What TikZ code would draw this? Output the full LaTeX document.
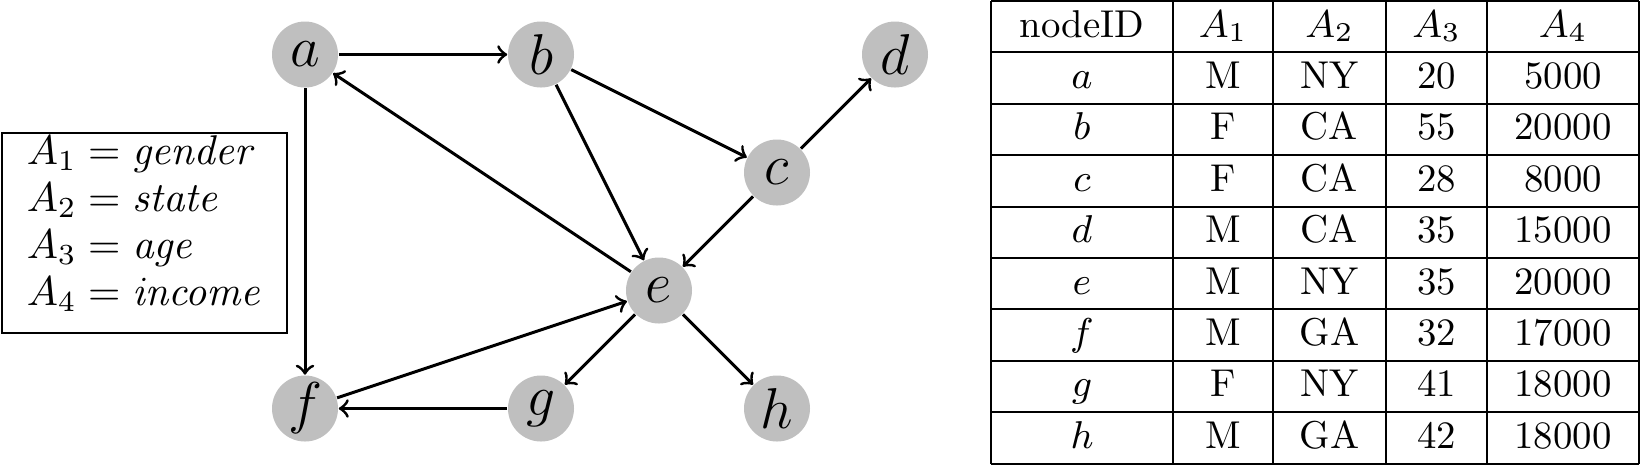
\RequirePackage{fix-cm}
\documentclass[tikz,border=0pt]{standalone}
\begin{document}
\begin{tikzpicture}[x=0.25pt,y=-0.25pt,
  vtx/.style={circle,fill=lightgray,minimum size=16.5pt,inner sep=0pt,font=\Large},
  edge/.style={->,line width=0.75pt},
  grid/.style={line width=0.5pt},
  cell/.style={anchor=base,inner sep=0pt,font=\fontsize{9.7}{11.6}\selectfont},
  legtxt/.style={anchor=base west,inner sep=0pt,font=\fontsize{10.4}{12.5}\selectfont}]
\useasboundingbox (0,0) rectangle (1641,465);
% graph nodes
\node[vtx] (a) at (305,54.5) {$a$};
\node[vtx] (b) at (541,54.5) {$b$};
\node[vtx] (d) at (895,54.5) {$d$};
\node[vtx] (c) at (777,172.5) {$c$};
\node[vtx] (e) at (659,290.5) {$e$};
\node[vtx] (f) at (305,408.5) {$f$};
\node[vtx] (g) at (541,408.5) {$g$};
\node[vtx] (h) at (777,408.5) {$h$};
% edges
\draw[edge] (a) -- (b);
\draw[edge] (a) -- (f);
\draw[edge] (b) -- (c);
\draw[edge] (b) -- (e);
\draw[edge] (c) -- (d);
\draw[edge] (c) -- (e);
\draw[edge] (e) -- (a);
\draw[edge] (e) -- (g);
\draw[edge] (e) -- (h);
\draw[edge] (f) -- (e);
\draw[edge] (g) -- (f);
% legend
\draw[grid] (2,133) rectangle (287,333);
\node[legtxt] (l1) at (26,164) {$A_1 = \mathit{gender}$};
\node[legtxt] (l2) at (26,211) {$A_2 = \mathit{state}$};
\node[legtxt] (l3) at (26,258) {$A_3 = \mathit{age}$};
\node[legtxt] (l4) at (26,305) {$A_4 = \mathit{income}$};
% table grid
\foreach \i in {0,...,9}{
  \draw[grid] (991,{1+51.4*\i}) -- (1639,{1+51.4*\i});
}
\foreach \xx in {991,1173,1273,1386,1487,1639}{
  \draw[grid] (\xx,1) -- (\xx,463.6);
}
% header
\node[cell] (h1) at (1082,37) {nodeID};
\node[cell] (h2) at (1223,37) {$A_1$};
\node[cell] (h3) at (1329.5,37) {$A_2$};
\node[cell] (h4) at (1436.5,37) {$A_3$};
\node[cell] (h5) at (1563,37) {$A_4$};
\foreach \vA/\vB/\vC/\vD/\vE [count=\r] in {a/M/NY/20/5000, b/F/CA/55/20000, c/F/CA/28/8000, d/M/CA/35/15000, e/M/NY/35/20000, f/M/GA/32/17000, g/F/NY/41/18000, h/M/GA/42/18000}{
  \node[cell] (t\r a) at (1082,{37+51.4*\r}) {$\vA$};
  \node[cell] (t\r b) at (1223,{37+51.4*\r}) {\vB};
  \node[cell] (t\r c) at (1329.5,{37+51.4*\r}) {\vC};
  \node[cell] (t\r d) at (1436.5,{37+51.4*\r}) {\vD};
  \node[cell] (t\r e) at (1563,{37+51.4*\r}) {\vE};
}
\end{tikzpicture}
\end{document}
